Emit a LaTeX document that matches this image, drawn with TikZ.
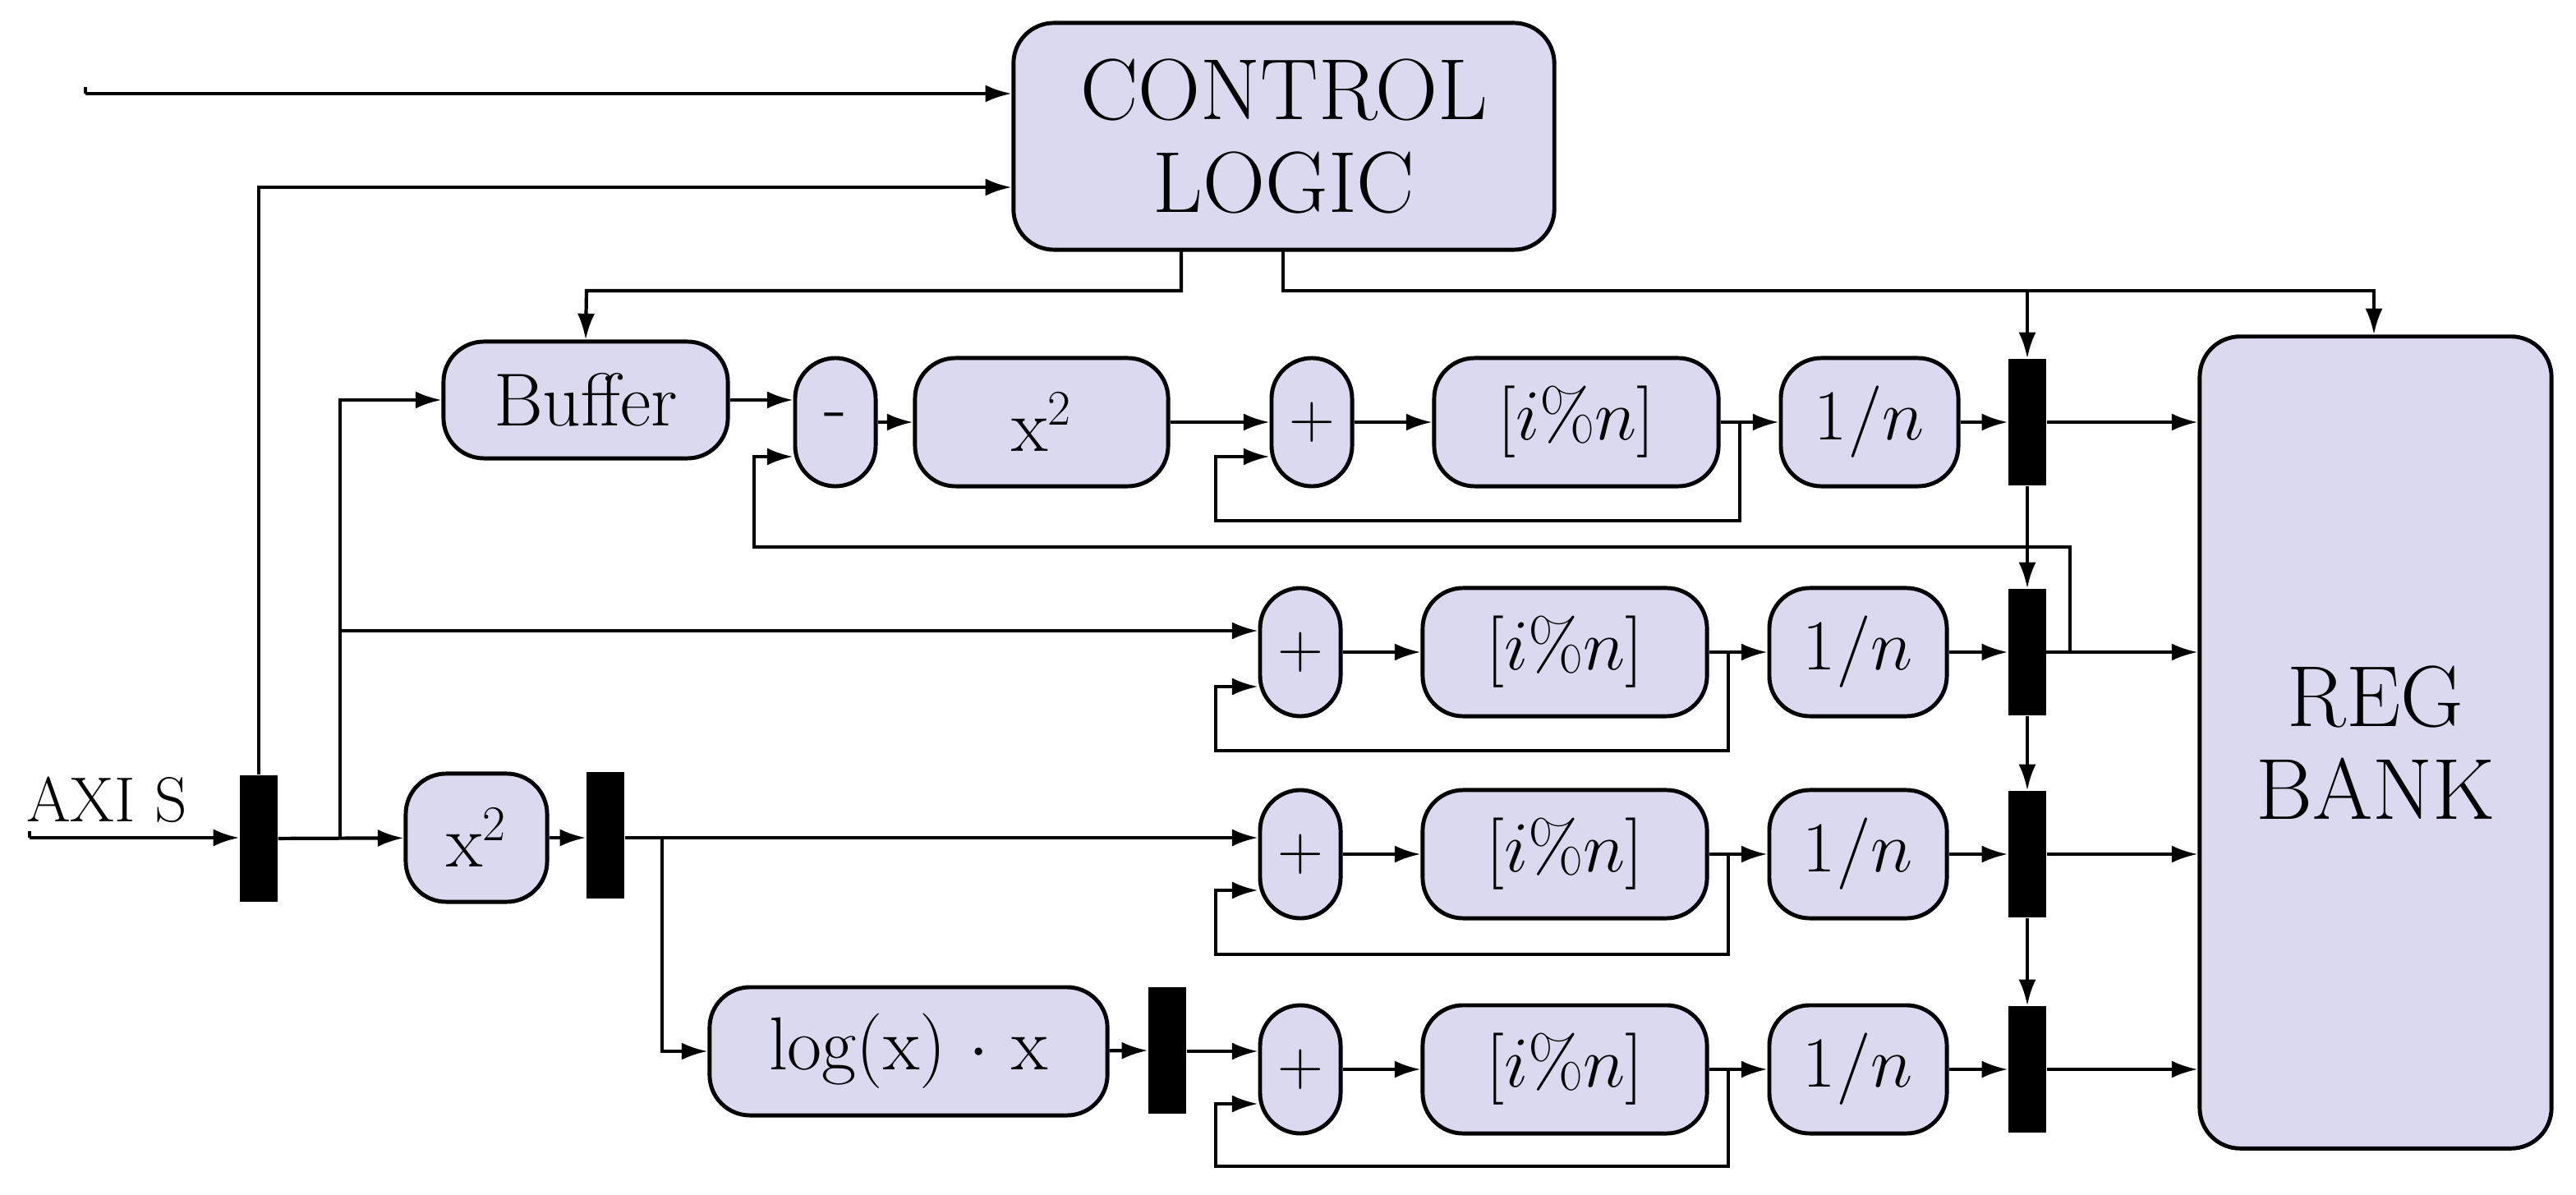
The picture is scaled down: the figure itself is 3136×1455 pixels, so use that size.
\documentclass[tikz,border=0pt]{standalone}
\usetikzlibrary{arrows.meta}
\begin{document}
\begin{tikzpicture}[x=0.01cm,y=-0.01cm,
  blk/.style={draw,line width=1.4pt,fill={rgb,255:red,218;green,217;blue,240},rounded corners=14,inner sep=0,font=\fontsize{26}{30}\selectfont},
  mux/.style={fill=black,draw=none,minimum width=0.46cm,minimum height=1.54cm,inner sep=0},
  ar/.style={-{Latex[length=9pt,width=6pt]},line width=1.2pt},
  ln/.style={line width=1.2pt}]
\useasboundingbox (0,0) rectangle (3136,1455);
\node[blk,minimum width=6.58cm,minimum height=2.76cm,align=center,font=\fontsize{30}{32}\selectfont] (cl) at (1563,166) {CONTROL\\LOGIC};
\node[blk,minimum width=4.28cm,minimum height=9.88cm,align=center,font=\fontsize{30}{32}\selectfont] (rb) at (2892,904) {REG\\BANK};
\node[mux] (m0) at (315,1021) {};
\node[font=\fontsize{22}{24}\selectfont] (axi) at (130,974) {AXI S};
\coordinate (in) at (36,1020);
\coordinate (tin) at (104,114);
\node[blk,minimum width=3.46cm,minimum height=1.42cm] (buf) at (713,487) {Buffer};
\node[blk,minimum width=1.72cm,minimum height=1.56cm] (sq0) at (580,1020) {x$^2$};
\node[mux] (m1) at (737,1017) {};
\node[blk,minimum width=4.84cm,minimum height=1.56cm] (lg) at (1106,1280) {log(x) $\cdot$ x};
\node[mux] (m2) at (1421,1279) {};
\node[blk,minimum width=0.98cm,minimum height=1.56cm] (sub) at (1017,514) {-};
\node[blk,minimum width=3.08cm,minimum height=1.56cm] (sq1) at (1268,514) {x$^2$};
% rows
\foreach \r/\y/\px/\ix/\nx in {1/514/1597/1919/2276, 2/794/1583/1905/2262, 3/1040/1583/1905/2262, 4/1302/1583/1905/2262}{
  \node[blk,minimum width=0.98cm,minimum height=1.56cm,font=\fontsize{22}{24}\selectfont] (p\r) at (\px,\y) {+};
  \node[blk,minimum width=3.46cm,minimum height=1.56cm,font=\fontsize{28}{30}\selectfont] (i\r) at (\ix,\y) {$[i\%n]$};
  \node[blk,minimum width=2.16cm,minimum height=1.56cm,font=\fontsize{28}{30}\selectfont] (n\r) at (\nx,\y) {$1/n$};
  \node[mux] (r\r) at (2468,\y) {};
  \draw[ar] (p\r) -- (i\r);
  \draw[ar] (i\r) -- (n\r);
  \draw[ar] (n\r) -- (r\r);
  \draw[ar] (r\r) -- (r\r -| rb.west);
}
\draw[ar] (r1) -- (r2); \draw[ar] (r2) -- (r3); \draw[ar] (r3) -- (r4);
% accumulator loops
\draw[ar] (2118,514) |- (1480,634) |- (p1.west |- 0,556);
\draw[ar] (2104,794) |- (1480,914) |- (p2.west |- 0,836);
\draw[ar] (2104,1040) |- (1480,1162) |- (p3.west |- 0,1084);
\draw[ar] (2104,1302) |- (1480,1420) |- (p4.west |- 0,1344);
% input
\draw[ln] (in) ++(0,-8) -- (in);
\draw[ar] (in) -- (m0.west |- in);
\draw[ar] (m0) -- (sq0);
\draw[ar] (414,1020) |- (buf.west);
\draw[ar] (414,768) -- (p2.west |- 0,768);
\draw[ar] (sq0) -- (m1.west |- sq0);
\draw[ar] (m1.east |- 0,1020) -- (p3.west |- 0,1020);
\draw[ar] (806,1020) |- (lg.west);
\draw[ar] (lg) -- (m2);
\draw[ar] (m2.east |- 0,1280) -- (p4.west |- 0,1280);
\draw[ar] (buf.east) -- (sub.west |- buf.east);
\draw[ar] (sub) -- (sq1);
\draw[ar] (sq1) -- (p1);
% feedback to subtract
\draw[ar] (2468,794) -| (2520,666) -| (918,556) -- (sub.west |- 0,556);
% control
\draw[ln] (tin) ++(0,-8) -- (tin);
\draw[ar] (tin) -- (cl.west |- tin);
\draw[ar] (m0.north) |- (cl.west |- 0,228);
\draw[ar] (1438,304) |- (714,354) -- (buf.north);
\draw[ar] (1562,304) |- (2890,354) -- (rb.north -| 2890,0);
\draw[ar] (2468,354) -- (r1.north);
\end{tikzpicture}
\end{document}
